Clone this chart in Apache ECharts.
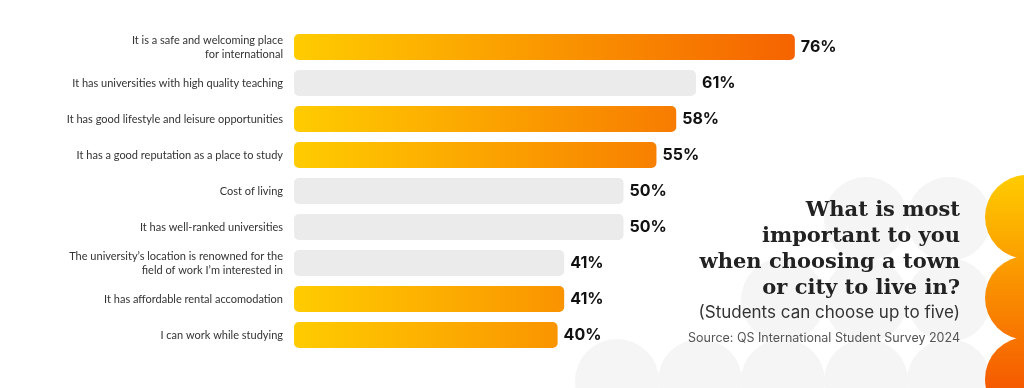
<!DOCTYPE html>
<html>
<head>
<meta charset="utf-8">
<script src="https://cdn.jsdelivr.net/npm/echarts@6/dist/echarts.min.js"></script>
<style>html,body{margin:0;padding:0;background:#fff;}#c{width:1024px;height:388px;}</style>
</head>
<body>
<div id="c"></div>
<script>
const categories = [
  "It is a safe and welcoming place\nfor international",
  "It has universities with high quality teaching",
  "It has good lifestyle and leisure opportunities",
  "It has a good reputation as a place to study",
  "Cost of living",
  "It has well-ranked universities",
  "The university\u2019s location is renowned for the\nfield of work I\u2019m interested in",
  "It has affordable rental accomodation",
  "I can work while studying"
];
const values = [76, 61, 58, 55, 50, 50, 41, 41, 40];
const highlighted = [true, false, true, true, false, false, false, true, true];
const titleText = "What is most\nimportant to you\nwhen choosing a town\nor city to live in?";
const subtitleText = "(Students can choose up to five)";
const sourceText = "Source: QS International Student Survey 2024";

const chart = echarts.init(document.getElementById('c'), null, {renderer: 'canvas'});

function circles() {
  const els = [];
  const grey = '#F5F5F5';
  const pts = [[866,219],[949,219],[783,300],[866,300],[949,300],[617,381],[700,381],[783,381],[866,381],[949,381]];
  pts.forEach(p => els.push({type:'circle', shape:{cx:p[0], cy:p[1], r:42}, style:{fill:grey}, z:-10, silent:true}));
  const grad = new echarts.graphic.LinearGradient(0, 175, 0, 388, [
    {offset:0, color:'#FFCC00'}, {offset:1, color:'#F55A00'}], true);
  [217, 298, 379].forEach(cy => els.push({type:'circle', shape:{cx:1027, cy:cy, r:42}, style:{fill:grad}, z:-5, silent:true}));
  els.push({type:'text', x:960, y:198, z:10, style:{text:titleText, font:'bold 21px "DejaVu Serif"', fill:'#222', align:'right', textAlign:'right', verticalAlign:'top', textVerticalAlign:'top', lineHeight:26}});
  els.push({type:'text', x:960, y:313, z:10, style:{text:subtitleText, font:'17px Inter', fill:'#333', align:'right', textAlign:'right', verticalAlign:'middle', textVerticalAlign:'middle'}});
  els.push({type:'text', x:960, y:338, z:10, style:{text:sourceText, font:'12.5px Inter', fill:'#555', align:'right', textAlign:'right', verticalAlign:'middle', textVerticalAlign:'middle'}});
  return els;
}

function buildOption(x0, x1) {
  const grad = new echarts.graphic.LinearGradient(x0, 0, x1, 0, [
    {offset:0, color:'#FFCC00'}, {offset:1, color:'#F56300'}], true);
  return {
    animation: false,
    backgroundColor: '#ffffff',
    grid: {left: 294, right: 71, top: 29, bottom: 35, containLabel: false},
    xAxis: {type:'value', min:0, max:100, show:false},
    yAxis: {
      type:'category', data: categories, inverse: true,
      axisLine:{show:false}, axisTick:{show:false}, splitLine:{show:false},
      axisLabel:{margin:11, fontSize:11, fontFamily:'Lato', color:'#333', lineHeight:14}
    },
    series: [{
      type:'bar', z: 5,
      barWidth: 26,
      data: values.map((v, i) => ({
        value: v,
        itemStyle: {color: highlighted[i] ? grad : '#EBEBEB', borderRadius: 5}
      })),
      label: {show:true, position:'right', distance:6, formatter: p => p.value + '%',
        fontFamily:'Inter', fontWeight:'bold', fontSize:16, color:'#111'}
    }],
    graphic: circles()
  };
}

chart.setOption(buildOption(294, 795));
const x0 = chart.convertToPixel({xAxisIndex:0}, 0);
const x1 = chart.convertToPixel({xAxisIndex:0}, Math.max.apply(null, values));
chart.setOption(buildOption(x0, x1), true);
</script>
</body>
</html>
